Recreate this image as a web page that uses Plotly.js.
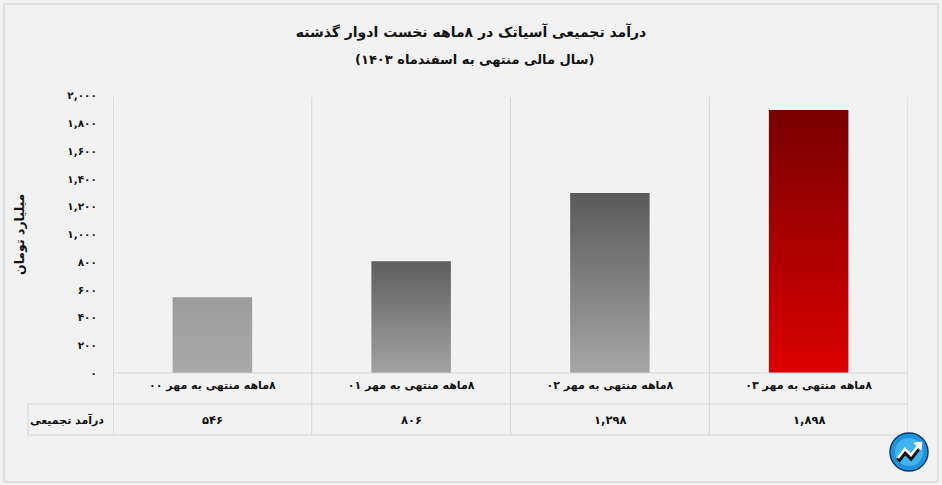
<!DOCTYPE html>
<html>
<head>
<meta charset="utf-8">
<script src="https://cdn.plot.ly/plotly-3.0.1.min.js"></script>
<style>html,body{margin:0;padding:0;background:#f2f2f2;}</style>
</head>
<body>
<div id="chart" style="width:942px;height:485px;"></div>
<script>
// ---- data ----
const categories = ['۸ماهه منتهی به مهر ۰۰', '۸ماهه منتهی به مهر ۰۱', '۸ماهه منتهی به مهر ۰۲', '۸ماهه منتهی به مهر ۰۳'];
const revenue = [546, 806, 1298, 1898];
const yTickVals = [0, 200, 400, 600, 800, 1000, 1200, 1400, 1600, 1800, 2000];
const yTickText = ['۰', '۲۰۰', '۴۰۰', '۶۰۰', '۸۰۰', '۱,۰۰۰', '۱,۲۰۰', '۱,۴۰۰', '۱,۶۰۰', '۱,۸۰۰', '۲,۰۰۰'];
const titleText = 'درآمد تجمیعی آسیاتک در ۸ماهه نخست ادوار گذشته';
const subtitleText = '(سال مالی منتهی به اسفندماه ۱۴۰۳)';
const yTitleText = 'میلیارد تومان';
const rowLabel = 'درآمد تجمیعی';

// ---- styles ----
const gradients = [
  ['#9c9c9c', '#a9a9a9'],
  ['#5e5e5e', '#a2a2a2'],
  ['#5a5a5a', '#a6a6a6'],
  ['#780000', '#dc0000']
];
const fallback = ['#a6a6a6', '#808080', '#808080', '#b00000'];

const RTL = s => '\u202B' + s + '\u202C';
const fa = n => n.toLocaleString('en-US').replace(/\d/g, d => '۰۱۲۳۴۵۶۷۸۹'[d]);

// pixel -> paper helpers (plot area: x 113..908, y 93..373)
const PX = x => (x - 113) / 795;
const PY = y => (373 - y) / 280;

const FONT = 'DejaVu Sans';
const gridC = '#d6d6d6';

const trace = {
  type: 'bar',
  x: categories.map(RTL),
  y: revenue,
  width: 0.4,
  marker: {color: fallback, line: {width: 0}},
  hoverinfo: 'skip'
};

const shapes = [];
[-0.5, 0.5, 1.5, 2.5, 3.5].forEach(v => {
  shapes.push({type: 'line', xref: 'x', yref: 'paper', x0: v, x1: v, y0: PY(97), y1: PY(435),
    line: {color: v === -0.5 ? '#c8c8c8' : gridC, width: 1}});
});
shapes.push({type: 'line', xref: 'x', yref: 'paper', x0: -0.5, x1: 3.5, y0: PY(373), y1: PY(373), line: {color: gridC, width: 1}});
shapes.push({type: 'line', xref: 'paper', yref: 'paper', x0: PX(28), x1: PX(908), y0: PY(404), y1: PY(404), line: {color: gridC, width: 1}});
shapes.push({type: 'line', xref: 'paper', yref: 'paper', x0: PX(28), x1: PX(908), y0: PY(435), y1: PY(435), line: {color: gridC, width: 1}});
shapes.push({type: 'line', xref: 'paper', yref: 'paper', x0: PX(28), x1: PX(28), y0: PY(404), y1: PY(435), line: {color: gridC, width: 1}});
shapes.push({type: 'rect', xref: 'paper', yref: 'paper', x0: PX(4), x1: PX(938), y0: PY(482), y1: PY(4), line: {color: '#cfcfcf', width: 1}, fillcolor: 'rgba(0,0,0,0)'});
// logo
shapes.push({type: 'circle', xref: 'paper', yref: 'paper', x0: PX(890), x1: PX(928), y0: PY(471), y1: PY(433), line: {color: '#0d3c6b', width: 1.5}, fillcolor: '#2193dc'});
shapes.push({type: 'circle', xref: 'paper', yref: 'paper', x0: PX(895), x1: PX(923), y0: PY(466), y1: PY(438), line: {width: 0}, fillcolor: '#41b3f0'});
const zig = (pts, dx, dy) => 'M ' + pts.map(p => PX(p[0] + dx) + ',' + PY(p[1] + dy)).join(' L ');
const zz = [[898, 459], [905, 450], [911, 456], [918, 447]];
shapes.push({type: 'path', xref: 'paper', yref: 'paper', path: zig(zz, 0, 2), line: {color: '#111', width: 4.5}});
shapes.push({type: 'path', xref: 'paper', yref: 'paper', path: zig(zz, 0, -1), line: {color: '#ffffff', width: 2.5}});
shapes.push({type: 'path', xref: 'paper', yref: 'paper',
  path: 'M ' + PX(922) + ',' + PY(442) + ' L ' + PX(914) + ',' + PY(443) + ' L ' + PX(921) + ',' + PY(450) + ' Z',
  fillcolor: '#ffffff', line: {color: '#ffffff', width: 1}});

const annotations = [];
annotations.push({xref: 'paper', yref: 'paper', x: PX(474), y: PY(60), text: RTL(subtitleText), showarrow: false,
  xanchor: 'center', yanchor: 'middle', font: {family: FONT, size: 13, color: '#111', weight: 'bold'}});
annotations.push({xref: 'paper', yref: 'paper', x: PX(19), y: PY(235), text: RTL(yTitleText), showarrow: false,
  textangle: -90, xanchor: 'center', yanchor: 'middle', font: {family: FONT, size: 12.5, color: '#111', weight: 'bold'}});
annotations.push({xref: 'paper', yref: 'paper', x: PX(67), y: PY(420), text: RTL(rowLabel), showarrow: false,
  xanchor: 'center', yanchor: 'middle', font: {family: FONT, size: 11, color: '#111', weight: 'bold'}});
categories.forEach((c, i) => {
  annotations.push({xref: 'x', yref: 'paper', x: RTL(c), y: PY(420), text: fa(revenue[i]), showarrow: false,
    xanchor: 'center', yanchor: 'middle', font: {family: FONT, size: 11.5, color: '#111', weight: 'bold'}});
});

const layout = {
  width: 942, height: 485,
  paper_bgcolor: '#f2f2f2', plot_bgcolor: '#f2f2f2',
  margin: {l: 113, r: 34, t: 93, b: 112},
  showlegend: false,
  title: {text: RTL(titleText), xref: 'container', x: 0.5, xanchor: 'center', yref: 'container', y: 1 - 32 / 485, yanchor: 'middle',
    font: {family: FONT, size: 14, color: '#111', weight: 'bold'}},
  xaxis: {type: 'category', range: [-0.5, 3.5], showgrid: false, zeroline: false, showline: false, ticks: '',
    tickfont: {family: FONT, size: 11, color: '#111', weight: 'bold'}, ticklabelstandoff: 4, fixedrange: true},
  yaxis: {range: [0, 2020], tickvals: yTickVals, ticktext: yTickText, showgrid: false, zeroline: false, showline: false,
    ticks: 'outside', ticklen: 13, tickcolor: 'rgba(0,0,0,0)',
    tickfont: {family: FONT, size: 10.5, color: '#111', weight: 'bold'}, fixedrange: true},
  shapes: shapes,
  annotations: annotations,
  bargap: 0.6
};

Plotly.newPlot('chart', [trace], layout, {staticPlot: true, displayModeBar: false}).then(gd => {
  const svg = gd.querySelector('.main-svg');
  const NS = 'http://www.w3.org/2000/svg';
  let defs = svg.querySelector('defs');
  if (!defs) { defs = document.createElementNS(NS, 'defs'); svg.insertBefore(defs, svg.firstChild); }
  gradients.forEach((g, i) => {
    const lg = document.createElementNS(NS, 'linearGradient');
    lg.setAttribute('id', 'bargrad' + i);
    lg.setAttribute('x1', '0'); lg.setAttribute('y1', '0'); lg.setAttribute('x2', '0'); lg.setAttribute('y2', '1');
    [[0, g[0]], [1, g[1]]].forEach(s => {
      const st = document.createElementNS(NS, 'stop');
      st.setAttribute('offset', s[0]); st.setAttribute('stop-color', s[1]);
      lg.appendChild(st);
    });
    defs.appendChild(lg);
  });
  gd.querySelectorAll('.barlayer .trace .point path').forEach((p, i) => {
    p.style.fill = 'url(#bargrad' + i + ')';
  });
});
</script>
</body>
</html>
